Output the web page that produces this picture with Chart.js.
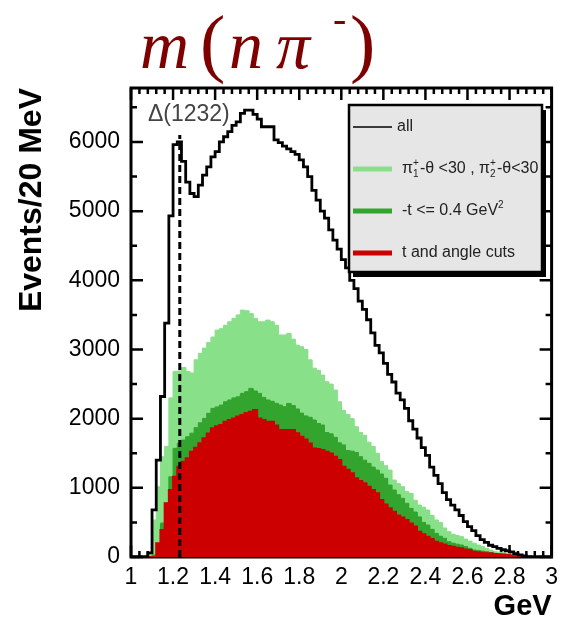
<!DOCTYPE html>
<html>
<head>
<meta charset="utf-8">
<title>m(nπ⁻)</title>
<script src="https://cdn.jsdelivr.net/npm/chart.js@4.4.1/dist/chart.umd.min.js"></script>
<style>
  html, body { margin: 0; padding: 0; background: #fff; }
  #wrap { width: 565px; height: 618px; }
</style>
</head>
<body>
<div id="wrap"><canvas id="massChart" width="565" height="618"></canvas></div>
<script>
// n pi- invariant mass, 20 MeV bins from 1.0 to 3.0 GeV
const binStart = 1.0;
const binWidth = 0.02;

const allEvents = [
  0, 0, 0, 0, 60, 680, 1400, 2320, 3380, 4930,
  5960, 6000, 5720, 5420, 5255, 5210, 5376, 5520, 5640, 5785,
  5860, 6000, 6075, 6150, 6240, 6290, 6412, 6460, 6460, 6400,
  6330, 6220, 6220, 6220, 6030, 5990, 5940, 5900, 5860, 5820,
  5740, 5640, 5500, 5300, 5160, 5000, 4900, 4730, 4580, 4450,
  4300, 4180, 4000, 3880, 3700, 3580, 3430, 3240, 3060, 2950,
  2800, 2640, 2530, 2370, 2270, 2150, 1970, 1850, 1720, 1580,
  1470, 1300, 1180, 1060, 930, 830, 750, 680, 600, 510,
  440, 380, 310, 250, 210, 170, 150, 126, 105, 90,
  75, 50, 30, 15, 5, 0, 0, 0, 0, 0
];
const pionAngleCut = [
  0, 0, 0, 0, 60, 535, 1016, 1450, 1600, 2300,
  2680, 2690, 2740, 2680, 2660, 2850, 2945, 3020, 3100, 3180,
  3280, 3300, 3350, 3400, 3450, 3500, 3570, 3560, 3520, 3450,
  3400, 3400, 3425, 3400, 3350, 3210, 3210, 3232, 3150, 3063,
  3040, 3000, 2850, 2730, 2700, 2630, 2533, 2500, 2413, 2244,
  2120, 2060, 2000, 1883, 1800, 1760, 1660, 1600, 1500, 1377,
  1320, 1257, 1113, 1060, 1016, 944, 920, 820, 751, 720,
  679, 600, 535, 500, 420, 366, 330, 310, 293, 260,
  230, 200, 173, 150, 126, 100, 77, 70, 60, 53,
  45, 35, 29, 20, 15, 10, 5, 0, 0, 0
];
const tCut = [
  0, 0, 0, 0, 0, 30, 150, 490, 780, 1160,
  1570, 1643, 1690, 1738, 1790, 1870, 1940, 2004, 2077, 2148,
  2170, 2196, 2244, 2270, 2300, 2316, 2365, 2390, 2437, 2400,
  2365, 2307, 2270, 2250, 2220, 2196, 2172, 2220, 2190, 2140,
  2080, 2040, 2020, 1980, 1930, 1907, 1800, 1780, 1730, 1650,
  1620, 1540, 1530, 1510, 1450, 1400, 1354, 1300, 1257, 1200,
  1137, 1040, 968, 900, 848, 776, 703, 650, 580, 500,
  462, 400, 342, 300, 270, 221, 200, 185, 173, 150,
  126, 101, 95, 85, 77, 65, 53, 45, 40, 30,
  25, 20, 15, 10, 5, 0, 0, 0, 0, 0
];
const tAndAngleCut = [
  0, 0, 0, 0, 0, 0, 198, 390, 776, 968,
  1160, 1305, 1377, 1426, 1522, 1580, 1643, 1715, 1787, 1860,
  1890, 1907, 1955, 1980, 2004, 2030, 2052, 2080, 2100, 2124,
  2004, 1980, 1955, 1955, 1900, 1835, 1835, 1835, 1835, 1790,
  1738, 1700, 1640, 1570, 1560, 1546, 1520, 1498, 1450, 1402,
  1305, 1260, 1209, 1137, 1100, 1065, 1016, 970, 920, 824,
  760, 703, 655, 600, 570, 535, 486, 440, 366, 330,
  293, 260, 221, 200, 180, 160, 149, 135, 126, 110,
  101, 77, 70, 62, 55, 53, 45, 40, 35, 28,
  20, 15, 10, 5, 0, 0, 0, 0, 0, 0
];

const xTickValues = [1, 1.2, 1.4, 1.6, 1.8, 2, 2.2, 2.4, 2.6, 2.8, 3];
const yTickValues = [0, 1000, 2000, 3000, 4000, 5000, 6000];
const yMax = 6780;

// Delta(1232) marker
const deltaMass = 1.232;
const deltaTop = 6100;
const deltaLabel = 'Δ(1232)';
const deltaLabelAt = { x: 1.275, y: 6400 };

const lightGreen = '#88e088';
const darkGreen = '#33a42e';
const cutRed = '#cc0000';
const sans = '"Liberation Sans", Arial, Helvetica, sans-serif';

// each bin becomes a flat segment between its two edges
function toSteps(values) {
  const pts = [];
  values.forEach((v, i) => {
    pts.push({ x: binStart + i * binWidth, y: v });
    pts.push({ x: binStart + (i + 1) * binWidth, y: v });
  });
  return pts;
}

const legendEntries = [
  { parts: ['all'], color: '#000', width: 1.5 },
  { parts: ['π', { sup: '+', sub: '1' }, '-θ <30 , π', { sup: '+', sub: '2' }, '-θ<30'], color: lightGreen, width: 5 },
  { parts: ['-t <= 0.4 GeV', { sup: '2' }], color: darkGreen, width: 5 },
  { parts: ['t and angle cuts'], color: cutRed, width: 5 }
];

function drawRich(ctx, parts, x, y) {
  for (const p of parts) {
    if (typeof p === 'string') {
      ctx.font = '16px ' + sans;
      ctx.fillText(p, x, y);
      x += ctx.measureText(p).width;
    } else {
      ctx.font = '10px ' + sans;
      let w = 0;
      if (p.sup) { ctx.fillText(p.sup, x, y - 6); w = ctx.measureText(p.sup).width; }
      if (p.sub) { ctx.fillText(p.sub, x, y + 5); w = Math.max(w, ctx.measureText(p.sub).width); }
      x += w + 1;
    }
  }
}

// ROOT style frame with inward ticks on all four sides
const frameTicks = {
  id: 'frameTicks',
  beforeDatasetsDraw(chart) {
    const { ctx, chartArea: a, scales: { x, y } } = chart;
    ctx.save();
    ctx.strokeStyle = '#000';
    ctx.lineWidth = 2.5;
    ctx.beginPath();
    for (let i = 0; i <= 50; i++) {
      const px = x.getPixelForValue(binStart + i * 0.04);
      const len = i % 5 === 0 ? 12 : 6;
      ctx.moveTo(px, a.top); ctx.lineTo(px, a.top + len);
      ctx.moveTo(px, a.bottom); ctx.lineTo(px, a.bottom - len);
    }
    for (let v = 0; v <= y.max; v += 500) {
      const py = y.getPixelForValue(v);
      const len = v % 1000 === 0 ? 12 : 6;
      ctx.moveTo(a.left, py); ctx.lineTo(a.left + len, py);
      ctx.moveTo(a.right, py); ctx.lineTo(a.right - len, py);
    }
    ctx.stroke();
    ctx.lineWidth = 3;
    ctx.strokeRect(a.left, a.top, a.right - a.left, a.bottom - a.top);
    ctx.restore();
  }
};

const overlays = {
  id: 'overlays',
  afterDatasetsDraw(chart) {
    const { ctx, scales: { x, y } } = chart;
    ctx.save();

    // Delta line and label
    const dx = x.getPixelForValue(deltaMass);
    ctx.strokeStyle = '#000';
    ctx.lineWidth = 3;
    ctx.setLineDash([7, 4]);
    ctx.beginPath();
    ctx.moveTo(dx, y.getPixelForValue(0));
    ctx.lineTo(dx, y.getPixelForValue(deltaTop));
    ctx.stroke();
    ctx.setLineDash([]);
    ctx.fillStyle = '#444';
    ctx.font = '23px ' + sans;
    ctx.textAlign = 'center';
    ctx.textBaseline = 'middle';
    ctx.fillText(deltaLabel, x.getPixelForValue(deltaLabelAt.x), y.getPixelForValue(deltaLabelAt.y));

    // legend box with shadow
    const bx = 349, by = 105, bw = 193, bh = 167;
    ctx.fillStyle = '#000';
    ctx.fillRect(bx + 4, by + 5, bw, bh);
    ctx.fillStyle = '#e6e6e6';
    ctx.fillRect(bx, by, bw, bh);
    ctx.lineWidth = 2.5;
    ctx.strokeRect(bx, by, bw, bh);

    const rowY = [127, 169, 211, 253];
    ctx.textAlign = 'left';
    legendEntries.forEach((e, i) => {
      ctx.strokeStyle = e.color;
      ctx.lineWidth = e.width;
      ctx.beginPath();
      ctx.moveTo(353, rowY[i]);
      ctx.lineTo(392, rowY[i]);
      ctx.stroke();
      ctx.fillStyle = '#222';
      drawRich(ctx, e.parts, i === 0 ? 397 : 402, rowY[i]);
    });

    // title m(n pi-)
    ctx.fillStyle = '#7f0000';
    ctx.textBaseline = 'alphabetic';
    const serif = '"Liberation Serif", "Times New Roman", serif';
    const titlePieces = [
      { t: 'm', x: 140, y: 68, font: 'italic 68px ' + serif },
      { t: '(', x: 200, y: 68, font: '76px ' + serif },
      { t: 'n', x: 229, y: 68, font: 'italic 68px ' + serif },
      { t: 'π', x: 276, y: 68, font: 'italic 68px ' + serif },
      { t: '-', x: 333, y: 32, font: '40px ' + serif },
      { t: ')', x: 350, y: 68, font: '76px ' + serif }
    ];
    for (const p of titlePieces) {
      ctx.font = p.font;
      ctx.fillText(p.t, p.x, p.y);
    }
    ctx.restore();
  }
};

new Chart(document.getElementById('massChart'), {
  type: 'line',
  data: {
    datasets: [
      { label: 'all', data: toSteps(allEvents), borderColor: '#000', borderWidth: 2.8, fill: false },
      { label: 't and angle cuts', data: toSteps(tAndAngleCut), borderColor: cutRed, backgroundColor: cutRed, borderWidth: 2, fill: 'origin' },
      { label: '-t <= 0.4 GeV2', data: toSteps(tCut), borderColor: darkGreen, backgroundColor: darkGreen, borderWidth: 1, fill: 'origin' },
      { label: 'pi angle cuts', data: toSteps(pionAngleCut), borderColor: lightGreen, backgroundColor: lightGreen, borderWidth: 1, fill: 'origin' }
    ]
  },
  options: {
    responsive: false,
    animation: false,
    events: [],
    elements: { point: { radius: 0 }, line: { tension: 0, borderJoinStyle: 'miter' } },
    layout: { padding: { top: 88, right: 8, left: 0, bottom: 0 } },
    plugins: { legend: { display: false }, tooltip: { enabled: false } },
    scales: {
      x: {
        type: 'linear', min: 1, max: 3,
        grid: { display: false, drawTicks: false }, border: { display: false },
        afterBuildTicks: s => { s.ticks = xTickValues.map(v => ({ value: v })); },
        afterFit: s => { s.height = 61; },
        ticks: { color: '#000', font: { family: sans, size: 23 }, padding: 7, maxRotation: 0, autoSkip: false, callback: v => String(v) },
        title: { display: true, text: 'GeV', align: 'end', color: '#000', font: { family: sans, size: 29, weight: 'bold', lineHeight: 0.75 }, padding: 0 }
      },
      y: {
        min: 0, max: yMax,
        grid: { display: false, drawTicks: false }, border: { display: false },
        afterBuildTicks: s => { s.ticks = yTickValues.map(v => ({ value: v })); },
        afterFit: s => { s.width = 131; },
        ticks: { color: '#000', font: { family: sans, size: 23 }, padding: 11, callback: v => String(v) },
        title: { display: true, text: 'Events/20 MeV', align: 'end', color: '#000', font: { family: sans, size: 32, weight: 'bold', lineHeight: 1 }, padding: { top: 16, bottom: 0 } }
      }
    }
  },
  plugins: [frameTicks, overlays]
});
</script>
</body>
</html>
